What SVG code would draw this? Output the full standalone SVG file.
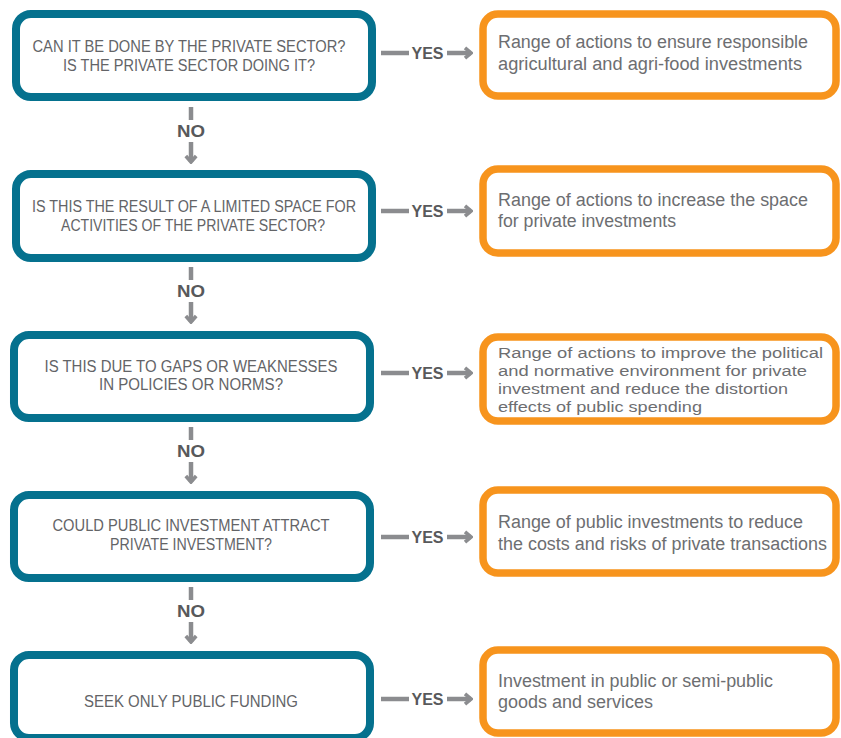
<svg xmlns="http://www.w3.org/2000/svg" width="841" height="738" viewBox="0 0 841 738">
<style>
.q{fill:#fff;stroke:#05718e;stroke-width:8}
.a{fill:#fff;stroke:#f7941d;stroke-width:7.5}
.qt{font-family:"Liberation Sans",Arial,sans-serif;font-size:16px;fill:#636467;text-anchor:middle}
.at{font-family:"Liberation Sans",Arial,sans-serif;font-size:18px;fill:#6d6e71}
.at.s{font-size:15.5px}
.ln{stroke:#8b8c8f;stroke-width:4.5;fill:none}
.lb{font-family:"Liberation Sans",Arial,sans-serif;font-size:16px;font-weight:bold;fill:#58595b;text-anchor:middle}
</style>
<defs>
<marker id="ah" markerUnits="userSpaceOnUse" viewBox="0 0 12 14" markerWidth="12" markerHeight="14" refX="10" refY="7" orient="auto">
<path d="M4,1.8 L10,7 L4,12.2" fill="none" stroke="#8b8c8f" stroke-width="3.6"/>
</marker>
</defs>
<g id="q1"><rect class="q" x="16" y="14" width="356" height="83" rx="15"/>
<text class="qt" x="189" y="52" textLength="313" lengthAdjust="spacingAndGlyphs">CAN IT BE DONE BY THE PRIVATE SECTOR?</text>
<text class="qt" x="189" y="71" textLength="252" lengthAdjust="spacingAndGlyphs">IS THE PRIVATE SECTOR DOING IT?</text></g>
<g id="q2"><rect class="q" x="16" y="174" width="356" height="84" rx="15"/>
<text class="qt" x="194" y="212" textLength="324" lengthAdjust="spacingAndGlyphs">IS THIS THE RESULT OF A LIMITED SPACE FOR</text>
<text class="qt" x="193" y="231" textLength="264" lengthAdjust="spacingAndGlyphs">ACTIVITIES OF THE PRIVATE SECTOR?</text></g>
<g id="q3"><rect class="q" x="14" y="335" width="356" height="83" rx="15"/>
<text class="qt" x="191" y="372" textLength="293" lengthAdjust="spacingAndGlyphs">IS THIS DUE TO GAPS OR WEAKNESSES</text>
<text class="qt" x="191" y="390" textLength="184" lengthAdjust="spacingAndGlyphs">IN POLICIES OR NORMS?</text></g>
<g id="q4"><rect class="q" x="14" y="495" width="356" height="83" rx="15"/>
<text class="qt" x="191" y="531" textLength="277" lengthAdjust="spacingAndGlyphs">COULD PUBLIC INVESTMENT ATTRACT</text>
<text class="qt" x="191" y="550" textLength="162" lengthAdjust="spacingAndGlyphs">PRIVATE INVESTMENT?</text></g>
<g id="q5"><rect class="q" x="14" y="655" width="356" height="83" rx="15"/>
<text class="qt" x="191" y="707" textLength="214" lengthAdjust="spacingAndGlyphs">SEEK ONLY PUBLIC FUNDING</text></g>

<g id="a1"><rect class="a" x="483" y="14" width="353" height="82" rx="15"/>
<text class="at" x="498" y="48" textLength="310" lengthAdjust="spacingAndGlyphs">Range of actions to ensure responsible</text>
<text class="at" x="498" y="70" textLength="304" lengthAdjust="spacingAndGlyphs">agricultural and agri-food investments</text></g>
<g id="a2"><rect class="a" x="483" y="169" width="353" height="84" rx="15"/>
<text class="at" x="498" y="206" textLength="310" lengthAdjust="spacingAndGlyphs">Range of actions to increase the space</text>
<text class="at" x="498" y="227" textLength="178" lengthAdjust="spacingAndGlyphs">for private investments</text></g>
<g id="a3"><rect class="a" x="483" y="337" width="353" height="84" rx="15"/>
<text class="at s" x="498" y="358" textLength="325" lengthAdjust="spacingAndGlyphs">Range of actions to improve the political</text>
<text class="at s" x="498" y="376" textLength="309" lengthAdjust="spacingAndGlyphs">and normative environment for private</text>
<text class="at s" x="498" y="394" textLength="290" lengthAdjust="spacingAndGlyphs">investment and reduce the distortion</text>
<text class="at s" x="498" y="412" textLength="204" lengthAdjust="spacingAndGlyphs">effects of public spending</text></g>
<g id="a4"><rect class="a" x="483" y="490" width="353" height="83" rx="15"/>
<text class="at" x="498" y="528" textLength="305" lengthAdjust="spacingAndGlyphs">Range of public investments to reduce</text>
<text class="at" x="498" y="550" textLength="329" lengthAdjust="spacingAndGlyphs">the costs and risks of private transactions</text></g>
<g id="a5"><rect class="a" x="483" y="650" width="353" height="83" rx="15"/>
<text class="at" x="498" y="687" textLength="275" lengthAdjust="spacingAndGlyphs">Investment in public or semi-public</text>
<text class="at" x="498" y="708" textLength="155" lengthAdjust="spacingAndGlyphs">goods and services</text></g>

<g id="connectors">
<line class="ln" x1="381" y1="53" x2="409" y2="53"/><text class="lb" x="427.5" y="58.5" textLength="32" lengthAdjust="spacingAndGlyphs">YES</text><line class="ln" x1="447" y1="53" x2="471" y2="53" marker-end="url(#ah)"/>
<line class="ln" x1="381" y1="211" x2="409" y2="211"/><text class="lb" x="427.5" y="216.5" textLength="32" lengthAdjust="spacingAndGlyphs">YES</text><line class="ln" x1="447" y1="211" x2="471" y2="211" marker-end="url(#ah)"/>
<line class="ln" x1="381" y1="373" x2="409" y2="373"/><text class="lb" x="427.5" y="378.5" textLength="32" lengthAdjust="spacingAndGlyphs">YES</text><line class="ln" x1="447" y1="373" x2="471" y2="373" marker-end="url(#ah)"/>
<line class="ln" x1="381" y1="537" x2="409" y2="537"/><text class="lb" x="427.5" y="542.5" textLength="32" lengthAdjust="spacingAndGlyphs">YES</text><line class="ln" x1="447" y1="537" x2="471" y2="537" marker-end="url(#ah)"/>
<line class="ln" x1="381" y1="699" x2="409" y2="699"/><text class="lb" x="427.5" y="704.5" textLength="32" lengthAdjust="spacingAndGlyphs">YES</text><line class="ln" x1="447" y1="699" x2="471" y2="699" marker-end="url(#ah)"/>

<line class="ln" x1="191" y1="107" x2="191" y2="120"/><text class="lb" x="191" y="137" textLength="28" lengthAdjust="spacingAndGlyphs">NO</text><line class="ln" x1="191" y1="142" x2="191" y2="162" marker-end="url(#ah)"/>
<line class="ln" x1="191" y1="267" x2="191" y2="280"/><text class="lb" x="191" y="297" textLength="28" lengthAdjust="spacingAndGlyphs">NO</text><line class="ln" x1="191" y1="302" x2="191" y2="322" marker-end="url(#ah)"/>
<line class="ln" x1="191" y1="427" x2="191" y2="440"/><text class="lb" x="191" y="457" textLength="28" lengthAdjust="spacingAndGlyphs">NO</text><line class="ln" x1="191" y1="462" x2="191" y2="482" marker-end="url(#ah)"/>
<line class="ln" x1="191" y1="587" x2="191" y2="600"/><text class="lb" x="191" y="617" textLength="28" lengthAdjust="spacingAndGlyphs">NO</text><line class="ln" x1="191" y1="622" x2="191" y2="642" marker-end="url(#ah)"/>
</g>
</svg>
